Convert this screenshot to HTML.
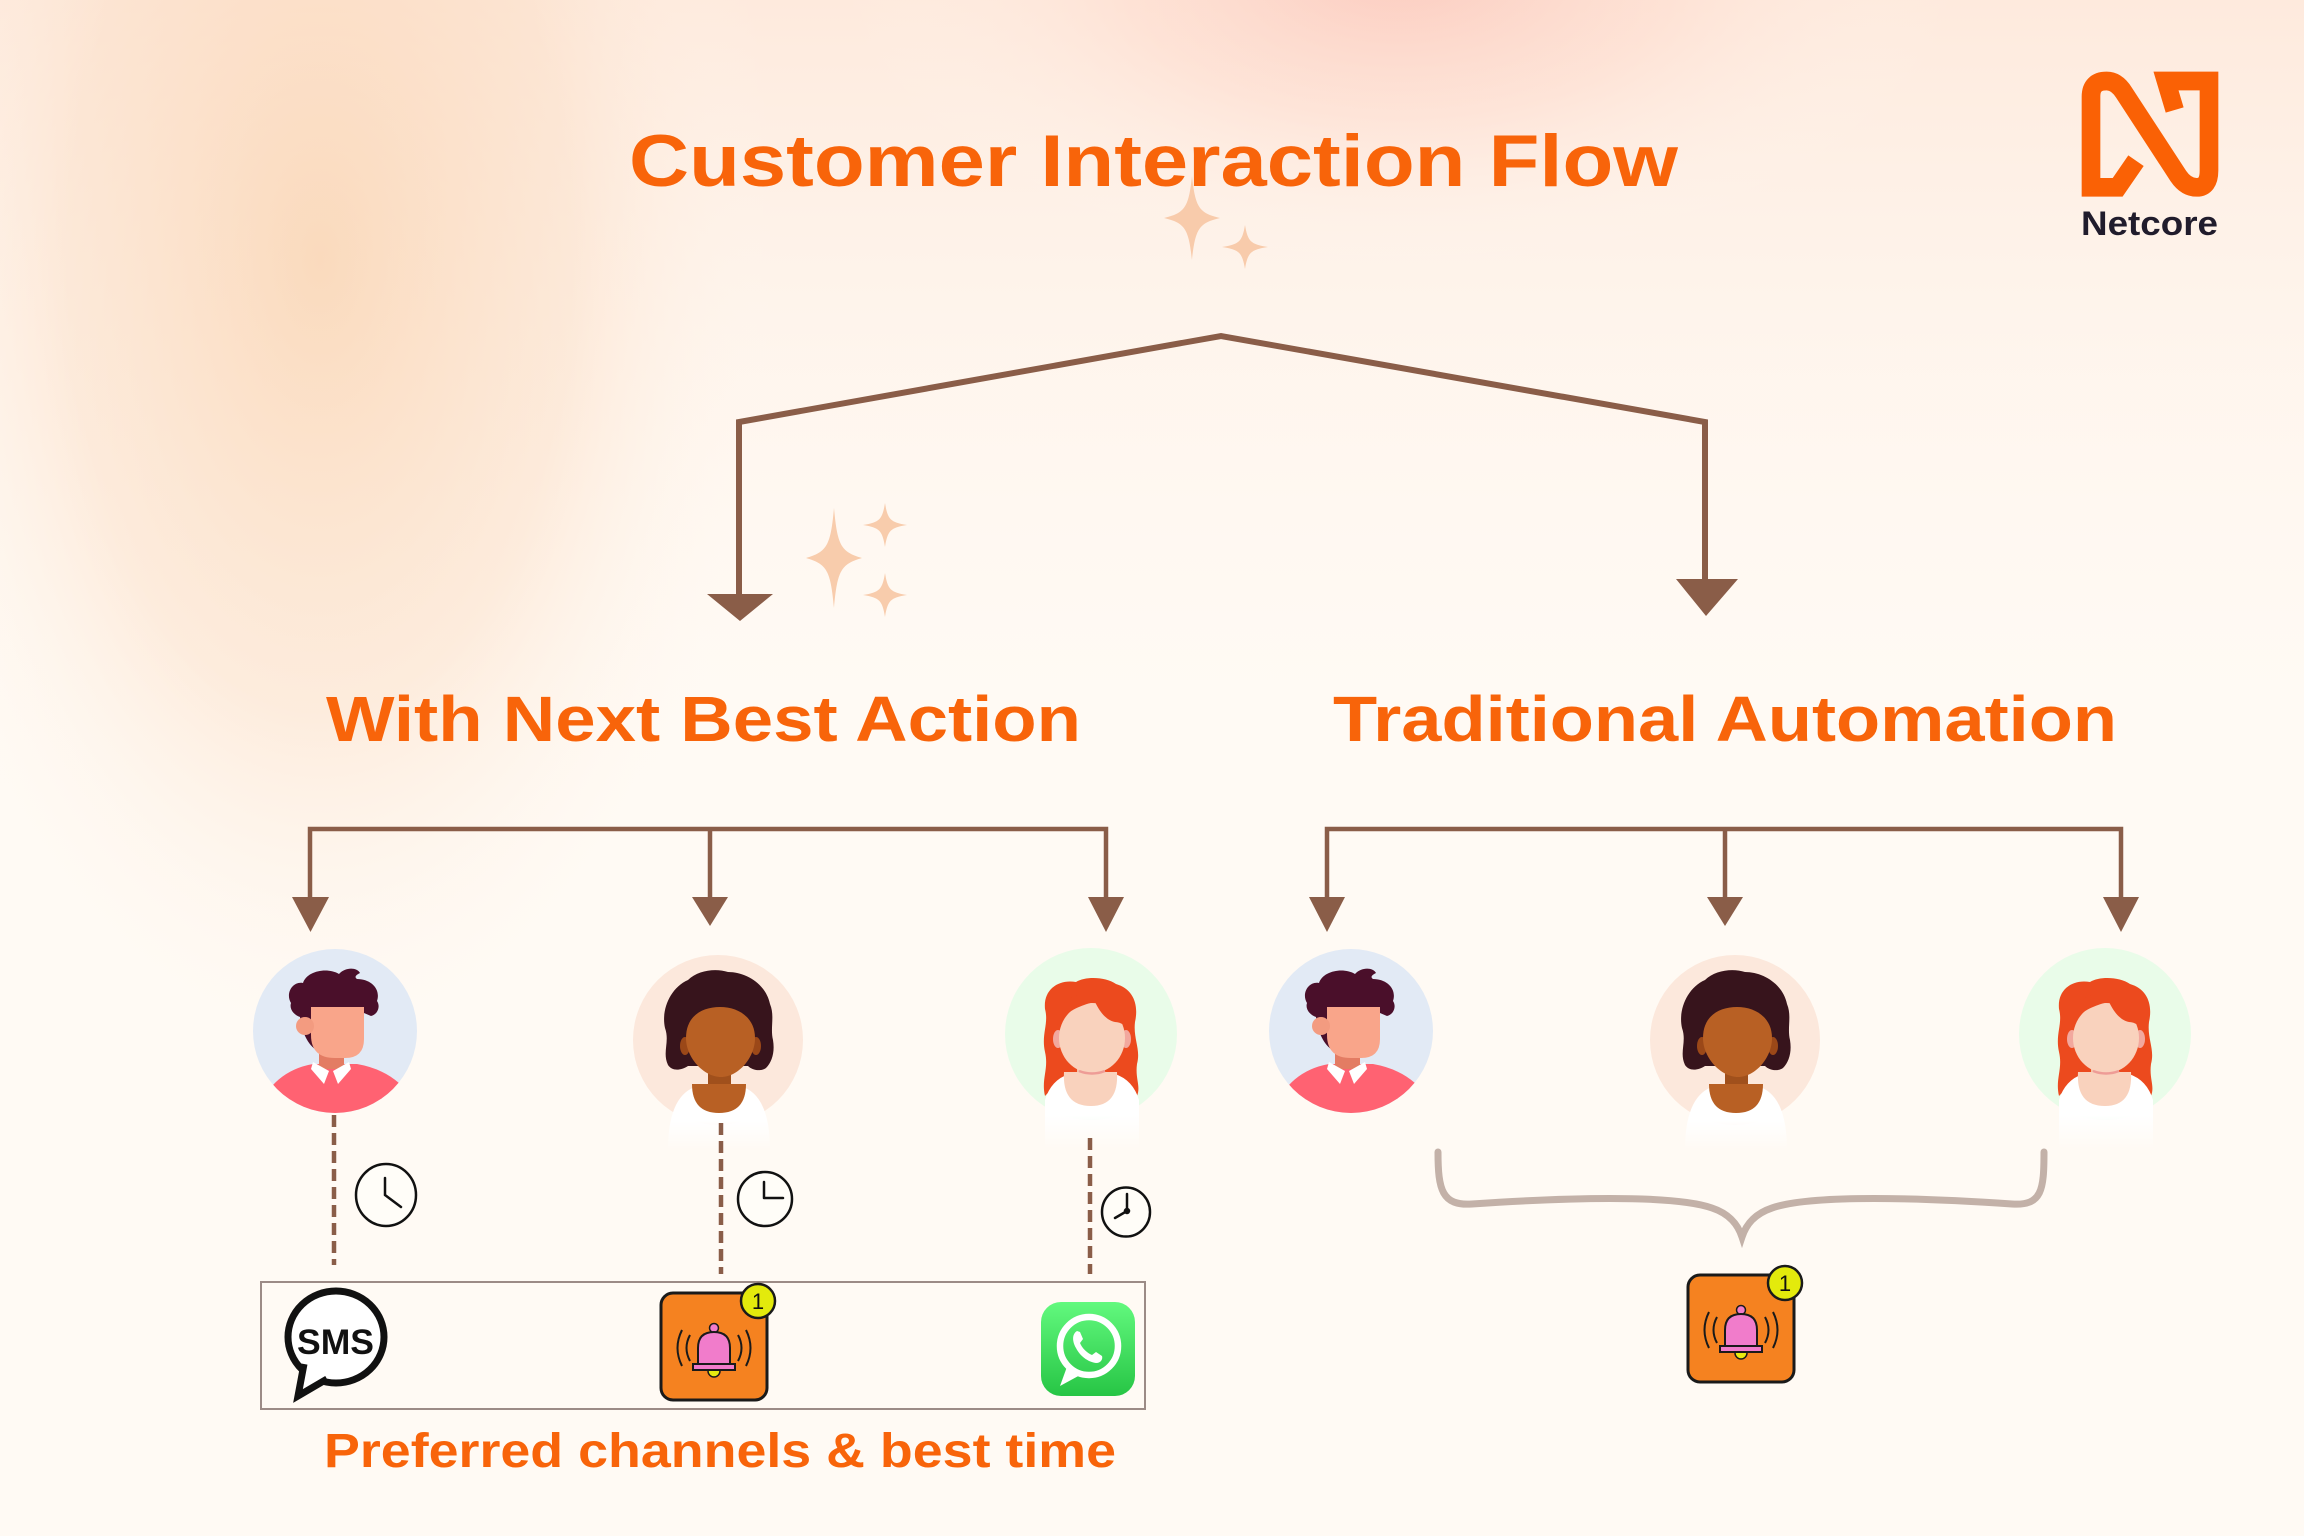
<!DOCTYPE html>
<html><head><meta charset="utf-8">
<style>
html,body{margin:0;padding:0;width:2304px;height:1536px;overflow:hidden;background:#FFFAF4}
svg{display:block}
text{font-family:"Liberation Sans",Arial,sans-serif;font-weight:bold}
</style></head><body>
<svg width="2304" height="1536" viewBox="0 0 2304 1536" xmlns="http://www.w3.org/2000/svg">
<defs>
  <radialGradient id="gPeach" cx="0" cy="0" r="1" gradientUnits="userSpaceOnUse" gradientTransform="translate(320,260) scale(460,820)">
    <stop offset="0" stop-color="#F9D2AE" stop-opacity="0.75"/>
    <stop offset="0.55" stop-color="#FBDEC6" stop-opacity="0.5"/>
    <stop offset="1" stop-color="#FFFAF4" stop-opacity="0"/>
  </radialGradient>
  <radialGradient id="gPink" cx="0" cy="0" r="1" gradientUnits="userSpaceOnUse" gradientTransform="translate(1400,-30) scale(560,300)">
    <stop offset="0" stop-color="#FCC6BA" stop-opacity="0.85"/>
    <stop offset="0.5" stop-color="#FDD9CC" stop-opacity="0.45"/>
    <stop offset="1" stop-color="#FFFAF4" stop-opacity="0"/>
  </radialGradient>
  <linearGradient id="gTop" x1="0" y1="0" x2="0" y2="800" gradientUnits="userSpaceOnUse">
    <stop offset="0" stop-color="#FDE3D3" stop-opacity="0.7"/>
    <stop offset="1" stop-color="#FFFAF4" stop-opacity="0"/>
  </linearGradient>
  <linearGradient id="gWa" x1="0" y1="0" x2="0" y2="1">
    <stop offset="0" stop-color="#62F97E"/>
    <stop offset="1" stop-color="#27C545"/>
  </linearGradient>
  <linearGradient id="gShirt" x1="0" y1="0" x2="0" y2="1">
    <stop offset="0.55" stop-color="#FFFFFF" stop-opacity="1"/>
    <stop offset="1" stop-color="#FFFFFF" stop-opacity="0"/>
  </linearGradient>
  <clipPath id="cm"><circle cx="0" cy="0" r="82"/></clipPath>

  <g id="man">
    <circle r="82" fill="#E2EAF5"/>
    <g clip-path="url(#cm)">
      <path d="M-78,80 Q-62,40 -22,33 L22,33 Q62,40 80,72 L80,100 L-78,100 Z" fill="#FF6272"/>
    </g>
    <path d="M-16,8 L9,8 L9,38 L-16,38 Z" fill="#E37C63"/>
    <path d="M-22,31 L-6,40 L-11,53 L-24,38 Z" fill="#FFFFFF"/>
    <path d="M14,31 L-2,40 L3,53 L16,38 Z" fill="#FFFFFF"/>
    <path d="M-44,-28 C-50,-38 -42,-50 -32,-48 C-28,-60 -8,-64 4,-57 C10,-64 22,-64 25,-58 C21,-56 19,-54 22,-52 C36,-52 46,-42 42,-30 C46,-24 42,-16 36,-15 L29,-18 L29,-24 L-14,-24 C-16,-16 -20,-8 -20,0 L-17,20 C-25,16 -33,4 -35,-14 C-41,-16 -46,-22 -44,-28 Z" fill="#4A0F2A"/>
    <path d="M-24,-24 L29,-24 L29,8 Q29,27 10,27 L0,27 Q-24,27 -24,4 Z" fill="#F9A58A"/>
    <circle cx="-30" cy="-5" r="9" fill="#F39B80"/>
  </g>

  <g id="wd">
    <circle r="85" fill="#FCE8DC"/>
    <path d="M-50,110 Q-50,54 -20,46 L22,46 Q52,54 52,110 Z" fill="url(#gShirt)"/>
    <path d="M-50,25 C-56,12 -48,2 -53,-12 C-57,-30 -48,-52 -30,-60 C-20,-70 -2,-72 10,-68 C28,-68 48,-56 52,-36 C57,-24 52,-12 55,0 C57,12 54,22 48,28 C42,32 34,30 30,26 L-30,26 C-38,31 -46,31 -50,25 Z" fill="#37141C"/>
    <rect x="-10" y="24" width="23" height="24" fill="#A0501C"/>
    <path d="M-26,44 Q-26,73 1,73 Q28,73 28,44 Z" fill="#B86024"/>
    <ellipse cx="-33" cy="6" rx="5" ry="9" fill="#9B4818"/>
    <ellipse cx="38" cy="6" rx="5" ry="9" fill="#9B4818"/>
    <path d="M-32,-2 C-32,-24 -16,-33 2,-33 C21,-33 37,-22 37,-2 C37,18 20,37 3,37 C-14,37 -32,18 -32,-2 Z" fill="#B86024"/>
  </g>

  <g id="wr">
    <circle r="86" fill="#E9FCE9"/>
    <path d="M-46,62 C-50,45 -42,35 -46,18 C-50,0 -42,-10 -46,-25 C-48,-45 -32,-55 -15,-52 C-5,-58 15,-57 25,-50 C42,-45 48,-30 44,-12 C42,5 50,15 46,30 C44,45 50,52 46,62 L30,45 L-30,45 Z" fill="#EC4A1E"/>
    <path d="M-46,115 L-46,66 Q-40,46 -22,40 L24,40 Q42,46 48,66 L48,115 Z" fill="url(#gShirt)"/>
    <rect x="-14" y="20" width="28" height="25" fill="#F3C1A8"/>
    <path d="M-27,38 Q-29,72 0,72 Q28,72 26,38 Z" fill="#F9D2BD"/>
    <ellipse cx="-33" cy="5" rx="5" ry="9" fill="#F2A89E"/>
    <ellipse cx="35" cy="5" rx="5" ry="9" fill="#F2A89E"/>
    <ellipse cx="1" cy="4" rx="33" ry="35" fill="#F9D2BD"/>
    <path d="M-12,37 Q1,42 14,37" stroke="#EE9C96" stroke-width="2.5" fill="none"/>
    <path d="M-34,-8 C-34,-36 -14,-42 4,-40 C24,-38 40,-25 40,0 C36,-8 30,-12 24,-12 C14,-14 8,-24 4,-32 C-6,-30 -26,-24 -34,-8 Z" fill="#EC4A1E"/>
  </g>

  <g id="bell">
    <rect x="0" y="0" width="106" height="107" rx="12" fill="#F58220" stroke="#1A1A1A" stroke-width="3"/>
    <g fill="none" stroke="#1A1A1A" stroke-width="2">
      <path d="M29,42 Q22,55 29,68"/>
      <path d="M21,37 Q12,55 21,73"/>
      <path d="M77,42 Q84,55 77,68"/>
      <path d="M85,37 Q94,55 85,73"/>
    </g>
    <circle cx="53" cy="78" r="6" fill="#E7EA10" stroke="#1A1A1A" stroke-width="1.5"/>
    <circle cx="53" cy="35" r="4.5" fill="#F17CCB" stroke="#1A1A1A" stroke-width="1.5"/>
    <path d="M37,72 L37,55 Q37,39 53,39 Q69,39 69,55 L69,72 Z" fill="#F17CCB" stroke="#1A1A1A" stroke-width="2"/>
    <rect x="32" y="71" width="42" height="6" fill="#F17CCB" stroke="#1A1A1A" stroke-width="2"/>
    <circle cx="97" cy="8" r="17" fill="#E3EA0C" stroke="#1A1A1A" stroke-width="2.5"/>
    <text x="97" y="16" font-size="22" text-anchor="middle" fill="#111" style="font-weight:normal">1</text>
  </g>

  <path id="spark" d="M0,-100 C12,-25 25,-12 100,0 C25,12 12,25 0,100 C-12,25 -25,12 -100,0 C-25,-12 -12,-25 0,-100 Z"/>
</defs>

<!-- background -->
<rect width="2304" height="1536" fill="#FFFAF4"/>
<rect width="2304" height="900" fill="url(#gTop)"/>
<rect width="2304" height="1300" fill="url(#gPeach)"/>
<rect width="2304" height="700" fill="url(#gPink)"/>

<!-- sparkles -->
<g fill="#F7C4A0" opacity="0.85">
  <use href="#spark" transform="translate(1192,218) scale(0.28,0.42)"/>
  <use href="#spark" transform="translate(1245,247) scale(0.23,0.22)"/>
  <use href="#spark" transform="translate(834,558) scale(0.28,0.5)"/>
  <use href="#spark" transform="translate(885,525) scale(0.22,0.22)"/>
  <use href="#spark" transform="translate(885,595) scale(0.22,0.22)"/>
</g>

<!-- title -->
<text x="629" y="186" font-size="73" fill="#F8640A" textLength="1049" lengthAdjust="spacingAndGlyphs">Customer Interaction Flow</text>

<!-- logo -->
<g transform="translate(2050,50) scale(0.33333)" fill="none" stroke="#FA6105" stroke-width="56" stroke-linejoin="miter" stroke-miterlimit="10">
  <path d="M258,332 L203,412 L123,412 L123,140 Q123,93 170,93 Q200,93 222,128 L385,378 Q408,412 440,412 Q477,412 477,362 L477,93 L348,93 L374,180"/>
</g>
<text x="2081" y="235" font-size="34" fill="#201C2C" textLength="137" lengthAdjust="spacingAndGlyphs">Netcore</text>

<!-- top connector -->
<path d="M739,596 L739,422 L1221,336 L1705,422 L1705,582" fill="none" stroke="#8A5D48" stroke-width="6" stroke-linejoin="miter"/>
<polygon points="707,594 773,594 740,621" fill="#8A5D48"/>
<polygon points="1676,579 1738,579 1706,616" fill="#8A5D48"/>

<!-- section titles -->
<text x="326" y="741" font-size="64" fill="#F8640A" textLength="755" lengthAdjust="spacingAndGlyphs">With Next Best Action</text>
<text x="1333" y="741" font-size="64" fill="#F8640A" textLength="784" lengthAdjust="spacingAndGlyphs">Traditional Automation</text>

<!-- lower connectors -->
<g fill="none" stroke="#8A5D48" stroke-width="4.5">
  <path d="M310,900 L310,829 L1106,829 L1106,900 M710,829 L710,900"/>
  <path d="M1327,900 L1327,829 L2121,829 L2121,900 M1725,829 L1725,900"/>
</g>
<g fill="#8A5D48">
  <polygon points="292,897 329,897 310.5,932"/>
  <polygon points="692,897 728,897 710,926"/>
  <polygon points="1088,897 1124,897 1106,932"/>
  <polygon points="1309,897 1345,897 1327,932"/>
  <polygon points="1707,897 1743,897 1725,926"/>
  <polygon points="2103,897 2139,897 2121,932"/>
</g>

<!-- avatars -->
<use href="#man" transform="translate(335,1031)"/>
<use href="#wd" transform="translate(718,1040)"/>
<use href="#wr" transform="translate(1091,1034)"/>
<use href="#man" transform="translate(1351,1031)"/>
<use href="#wd" transform="translate(1735,1040)"/>
<use href="#wr" transform="translate(2105,1034)"/>

<!-- dashed lines -->
<g stroke="#8A5D48" stroke-width="4.5" stroke-dasharray="12 6" fill="none">
  <path d="M334,1115 L334,1265"/>
  <path d="M721,1123 L721,1274"/>
  <path d="M1090,1138 L1090,1274"/>
</g>

<!-- clocks -->
<g fill="#FFFDF8" stroke="#111" stroke-width="2.5" stroke-linecap="round">
  <ellipse cx="386" cy="1195" rx="30" ry="31"/>
  <path d="M385,1195 L385,1178 M385,1195 L401,1207" fill="none"/>
  <ellipse cx="765" cy="1199" rx="27" ry="27"/>
  <path d="M764,1198 L764,1182 M764,1198 L783,1198" fill="none"/>
  <ellipse cx="1126" cy="1212" rx="24" ry="24.5"/>
  <path d="M1127,1211 L1127,1194 M1127,1211 L1115,1218" fill="none"/>
  <circle cx="1127" cy="1211" r="2" fill="#111"/>
</g>

<!-- channel box -->
<rect x="261" y="1282" width="884" height="127" fill="none" stroke="#9C8B86" stroke-width="2"/>

<!-- SMS -->
<ellipse cx="336" cy="1337" rx="48" ry="46" fill="#FFFFFF" stroke="#111" stroke-width="7"/>
<path d="M304,1364 L298,1396 L327,1379" fill="#FFFFFF" stroke="#111" stroke-width="7" stroke-linejoin="miter"/>
<text x="297" y="1354" font-size="35" fill="#111" textLength="77" lengthAdjust="spacingAndGlyphs" style="font-weight:900">SMS</text>

<!-- bells -->
<use href="#bell" transform="translate(661,1293)"/>
<use href="#bell" transform="translate(1688,1275)"/>

<!-- WhatsApp -->
<rect x="1041" y="1302" width="94" height="94" rx="20" fill="url(#gWa)"/>
<circle cx="1089" cy="1346" r="29" fill="none" stroke="#FFFFFF" stroke-width="6.5"/>
<path d="M1068,1364 L1060,1386 L1082,1374 Z" fill="#FFFFFF"/>
<path d="M1077,1331 C1072,1334 1072,1341 1076,1348 C1080,1356 1088,1362 1096,1363 C1101,1363 1103,1359 1102,1356 L1096,1352 L1092,1355 C1087,1353 1082,1348 1080,1343 L1083,1339 L1080,1332 Z" fill="#FFFFFF"/>

<!-- caption -->
<text x="324" y="1467" font-size="48" fill="#F8640A" textLength="792" lengthAdjust="spacingAndGlyphs">Preferred channels &amp; best time</text>

<!-- brace -->
<path d="M1438,1152 C1438,1190 1442,1206 1472,1204 C1560,1198 1672,1194 1712,1208 C1730,1214 1738,1225 1742,1237 C1746,1225 1754,1214 1772,1208 C1812,1194 1924,1198 2012,1204 C2042,1206 2044,1190 2044,1152" fill="none" stroke="#C3B1A8" stroke-width="7" stroke-linecap="round"/>
</svg>
</body></html>
